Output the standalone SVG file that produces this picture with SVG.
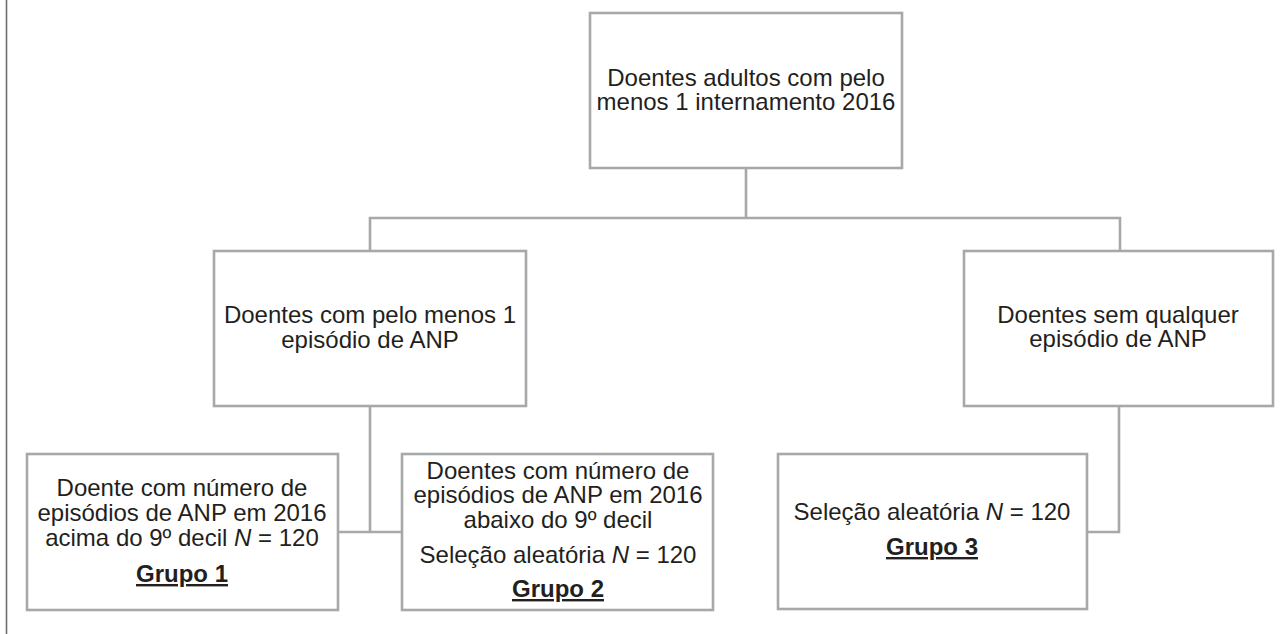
<svg xmlns="http://www.w3.org/2000/svg" width="1287" height="634" viewBox="0 0 1287 634">
<style>
.box{fill:#ffffff;stroke:#a7a8aa;stroke-width:2.6}
.con{fill:none;stroke:#a7a8aa;stroke-width:2.6}
text{font-family:"Liberation Sans",Arial,sans-serif;font-size:24px;fill:#231f20;text-anchor:middle}
.b{font-weight:bold;text-decoration:underline}
.i{font-style:italic}
</style>
<rect x="0" y="0" width="1287" height="634" fill="#ffffff"/>
<line x1="6.5" y1="0" x2="6.5" y2="634" stroke="#6d6e70" stroke-width="1.6"/>
<g id="connectors">
<path class="con" d="M746 168 V218"/>
<path class="con" d="M370 251 V218 H1120 V251"/>
<path class="con" d="M370 406 V532"/>
<path class="con" d="M338 532 H402"/>
<path class="con" d="M1119 406 V532 H1087"/>
</g>
<g id="top">
<rect class="box" x="590" y="13" width="312" height="155"/>
<text x="746" y="86">Doentes adultos com pelo</text>
<text x="746" y="110">menos 1 internamento 2016</text>
</g>
<g id="anp">
<rect class="box" x="214" y="251" width="312" height="155"/>
<text x="370" y="323">Doentes com pelo menos 1</text>
<text x="370" y="348">episódio de ANP</text>
</g>
<g id="semanp">
<rect class="box" x="964" y="251" width="309" height="155"/>
<text x="1118" y="323">Doentes sem qualquer</text>
<text x="1118" y="347">episódio de ANP</text>
</g>
<g id="grupo1">
<rect class="box" x="27" y="454" width="311" height="156"/>
<text x="182" y="496">Doente com número de</text>
<text x="182" y="521">episódios de ANP em 2016</text>
<text x="182" y="546">acima do 9º decil <tspan class="i">N</tspan> = 120</text>
<text x="182" y="582" class="b">Grupo 1</text>
</g>
<g id="grupo2">
<rect class="box" x="402" y="454" width="311" height="156"/>
<text x="558" y="479">Doentes com número de</text>
<text x="558" y="503">episódios de ANP em 2016</text>
<text x="558" y="528">abaixo do 9º decil</text>
<text x="558" y="563">Seleção aleatória <tspan class="i">N</tspan> = 120</text>
<text x="558" y="597" class="b">Grupo 2</text>
</g>
<g id="grupo3">
<rect class="box" x="778" y="454" width="309" height="155"/>
<text x="932" y="520">Seleção aleatória <tspan class="i">N</tspan> = 120</text>
<text x="932" y="555" class="b">Grupo 3</text>
</g>
</svg>
